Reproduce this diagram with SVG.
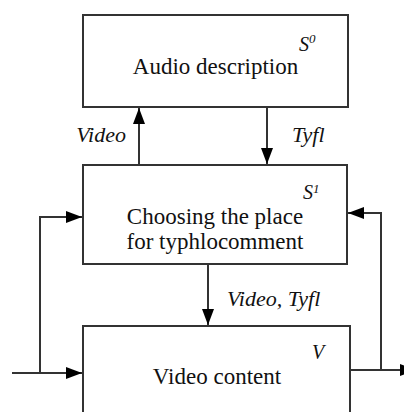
<svg xmlns="http://www.w3.org/2000/svg" width="404" height="412" viewBox="0 0 404 412">
<defs>
<style>
.box{fill:#fff;stroke:#333;stroke-width:2}
.ln{fill:none;stroke:#333;stroke-width:2}
text{font-family:'Liberation Serif','DejaVu Serif','Noto Serif',serif;fill:#111}
.t{font-size:23px}
.i{font-style:italic;font-size:22px}
.s{font-style:italic;font-size:20px}
</style>
<marker id="ah" markerUnits="userSpaceOnUse" markerWidth="16" markerHeight="12" refX="16" refY="6" orient="auto">
<path d="M0,0 L16,6 L0,12 z" fill="#000"/>
</marker>
</defs>
<rect width="404" height="412" fill="#fff"/>
<g id="connectors">
<line class="ln" x1="139" y1="165" x2="139" y2="108" marker-end="url(#ah)"/>
<line class="ln" x1="267" y1="107" x2="267" y2="164" marker-end="url(#ah)"/>
<line class="ln" x1="208" y1="264" x2="208" y2="325" marker-end="url(#ah)"/>
<line class="ln" x1="12" y1="373" x2="82" y2="373" marker-end="url(#ah)"/>
<polyline class="ln" points="40,373 40,217 82,217" marker-end="url(#ah)"/>
<line class="ln" x1="350" y1="370" x2="416" y2="370" marker-end="url(#ah)"/>
<polyline class="ln" points="381,370 381,213 348,213" marker-end="url(#ah)"/>
<text class="i" x="126" y="142" text-anchor="end">Video</text>
<text class="i" x="292" y="142">Tyfl</text>
<text class="i" x="227" y="306">Video, Tyfl</text>
</g>
<g id="audio">
<rect class="box" x="83" y="15" width="265" height="92"/>
<text class="t" x="215.5" y="74" text-anchor="middle">Audio description</text>
<text class="s" x="299" y="51">S<tspan font-size="13" dy="-8">0</tspan></text>
</g>
<g id="choosing">
<rect class="box" x="83" y="165" width="264" height="99"/>
<text class="t" x="215" y="224" text-anchor="middle">Choosing the place</text>
<text class="t" x="215" y="249" text-anchor="middle">for typhlocomment</text>
<text class="s" x="303" y="199">S<tspan font-size="13" dy="-6">1</tspan></text>
</g>
<g id="video">
<rect class="box" x="83" y="326" width="267" height="100"/>
<text class="t" x="217" y="384" text-anchor="middle">Video content</text>
<text class="s" x="312" y="359">V</text>
</g>
</svg>
